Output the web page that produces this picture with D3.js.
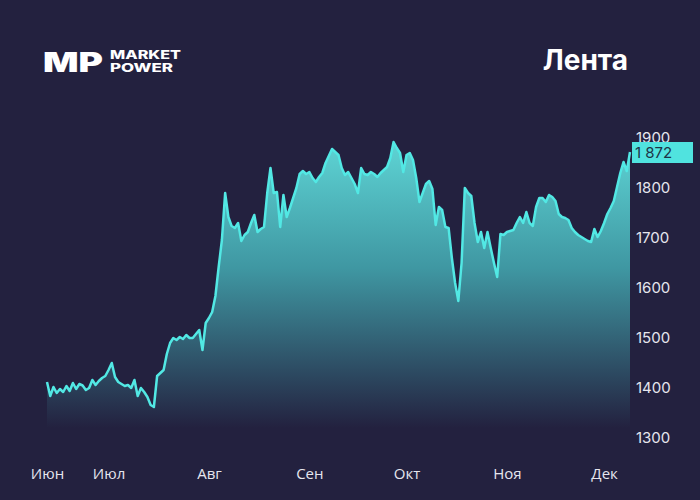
<!DOCTYPE html>
<html><head><meta charset="utf-8">
<script src="https://cdn.jsdelivr.net/npm/d3@7"></script>
<style>html,body{margin:0;padding:0;background:#23213f;}svg{display:block;}</style>
</head><body>
<svg id="c" width="700" height="500"></svg>
<script>
const title = "Лента";
const startDate = "2023-06-12";
const monthLabels = ["Июн","Июл","Авг","Сен","Окт","Ноя","Дек"];
const monthDates = ["2023-06-12","2023-07-01","2023-08-01","2023-09-01","2023-10-01","2023-11-01","2023-12-01"];
const yTicks = [1300,1400,1500,1600,1700,1800,1900];
const lastLabel = "1 872";
const values = [
1412,1384,1402,1390,1398,1392,1404,1394,1410,1398,
1408,1405,1396,1400,1416,1406,1414,1420,1424,1436,
1450,1422,1412,1408,1404,1406,1400,1416,1384,1400,
1392,1382,1366,1362,1424,1430,1436,1468,1490,1500,
1496,1502,1498,1506,1500,1500,1508,1516,1476,1530,
1540,1552,1584,1642,1696,1790,1742,1724,1720,1730,
1694,1706,1712,1730,1746,1712,1718,1722,1790,1840,
1790,1792,1722,1786,1742,1760,1780,1800,1828,1834,
1828,1832,1820,1812,1822,1830,1850,1864,1878,1872,
1866,1840,1826,1832,1820,1808,1790,1840,1828,1826,
1832,1828,1822,1830,1836,1842,1860,1892,1880,1870,
1832,1866,1870,1856,1820,1772,1790,1808,1814,1798,
1726,1762,1756,1722,1720,1660,1610,1574,1650,1800,
1790,1784,1730,1692,1712,1680,1712,1680,1650,1622,
1708,1706,1712,1714,1716,1730,1742,1730,1752,1730,
1724,1762,1780,1780,1772,1786,1782,1774,1748,1742,
1740,1736,1720,1712,1706,1702,1698,1694,1692,1718,
1702,1714,1730,1748,1760,1774,1802,1830,1852,1834,
1872];

const parse = d3.utcParse("%Y-%m-%d");
const t0 = parse(startDate);
const data = values.map((v,i)=>({date:d3.utcDay.offset(t0,i), v}));

const svg = d3.select("#c");
const bg = "#23213f";
svg.append("rect").attr("width",700).attr("height",500).attr("fill",bg);

const x = d3.scaleUtc().domain(d3.extent(data,d=>d.date)).range([47,630]);
const y = d3.scaleLinear().domain([1300,1900]).range([438,138]);

const defs = svg.append("defs");
const g = defs.append("linearGradient").attr("id","ag")
  .attr("gradientUnits","userSpaceOnUse").attr("x1",0).attr("x2",0)
  .attr("y1",y(1900)).attr("y2",y(1320));
g.append("stop").attr("offset","0%").attr("stop-color","#5fd6d6");
g.append("stop").attr("offset","45%").attr("stop-color","#3f97a2");
g.append("stop").attr("offset","100%").attr("stop-color",bg);

const area = d3.area().x(d=>x(d.date)).y0(y(1320)).y1(d=>y(d.v));
svg.append("path").datum(data).attr("d",area).attr("fill","url(#ag)");
const line = d3.line().x(d=>x(d.date)).y(d=>y(d.v));
svg.append("path").datum(data).attr("d",line).attr("fill","none")
  .attr("stroke","#52e8e4").attr("stroke-width",2.5).attr("stroke-linejoin","round");

// y axis
const ya = svg.append("g").attr("transform","translate(634,0)")
  .call(d3.axisRight(y).tickValues(yTicks).tickSize(0).tickPadding(2).tickFormat(d3.format("d")));
ya.select(".domain").remove();
ya.selectAll("text").attr("fill","#e6e6ee").style("font-family","Inter, 'Open Sans', sans-serif").style("font-size","15px");

// x axis
const xa = svg.append("g").attr("transform","translate(0,463)")
  .call(d3.axisBottom(x).tickValues(monthDates.map(parse)).tickSize(0).tickPadding(5)
    .tickFormat((d,i)=>monthLabels[i]));
xa.select(".domain").remove();
xa.selectAll("text").attr("fill","#e6e6ee").style("font-family","'Open Sans', sans-serif").style("font-size","15px");

// last value label
const last = data[data.length-1];
svg.append("rect").attr("x",632).attr("y",y(last.v)-10).attr("width",61).attr("height",21).attr("fill","#50e3df");
svg.append("text").attr("x",635).attr("y",y(last.v)+6).text(lastLabel)
  .attr("fill","#1d3447").style("font-family","Inter, sans-serif").style("font-size","15px");

// title
svg.append("text").attr("x",628).attr("y",70).attr("text-anchor","end").text(title)
  .attr("fill","#ffffff").style("font-family","Inter, 'Open Sans', sans-serif").style("font-size","28px").style("font-weight","700");

// logo
svg.append("text").attr("x",43).attr("y",72).text("MP")
  .attr("fill","#ffffff").style("font-family","Inter, sans-serif").style("font-size","27px").style("font-weight","900")
  .attr("textLength",60).attr("lengthAdjust","spacingAndGlyphs");
svg.append("text").attr("x",110).attr("y",59).text("MARKET")
  .attr("fill","#ffffff").style("font-family","Inter, sans-serif").style("font-size","11.5px").style("font-weight","800")
  .attr("textLength",71).attr("lengthAdjust","spacingAndGlyphs");
svg.append("text").attr("x",110).attr("y",72).text("POWER")
  .attr("fill","#ffffff").style("font-family","Inter, sans-serif").style("font-size","11.5px").style("font-weight","800")
  .attr("textLength",63).attr("lengthAdjust","spacingAndGlyphs");
</script>
</body></html>
